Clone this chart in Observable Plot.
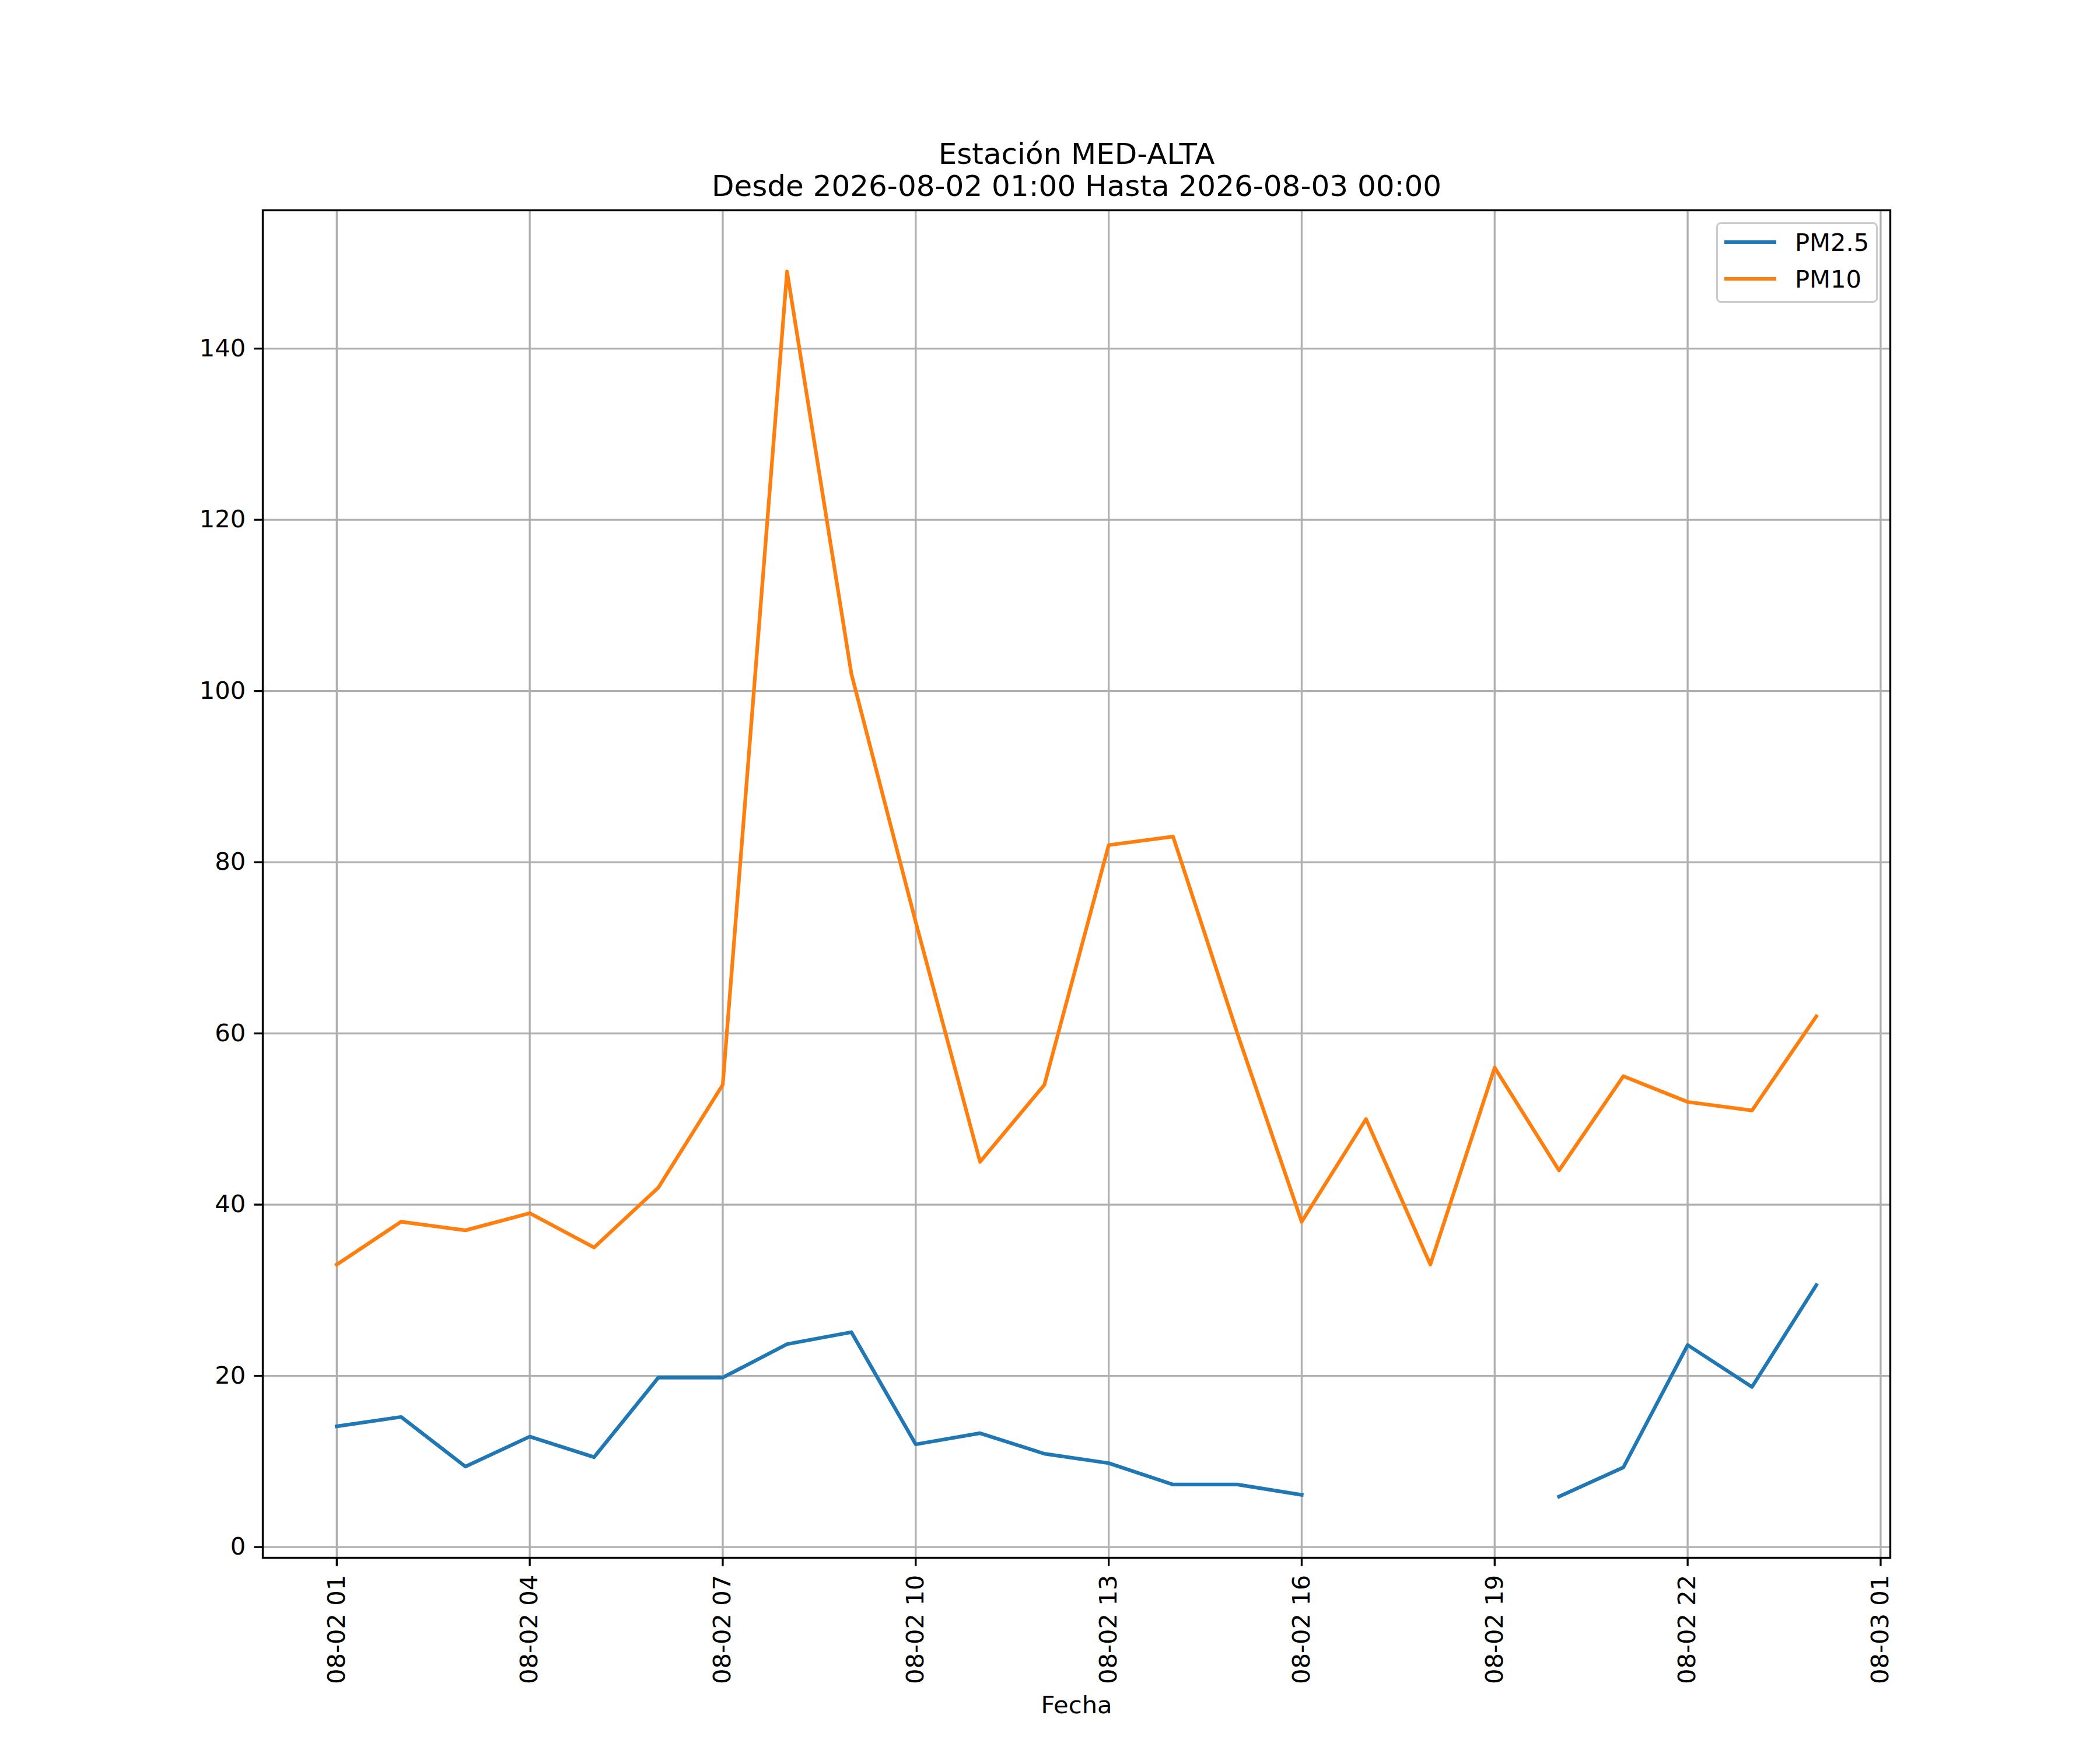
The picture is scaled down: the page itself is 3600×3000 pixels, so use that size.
<!DOCTYPE html>
<html>
<head>
<meta charset="utf-8">
<script src="https://cdn.jsdelivr.net/npm/d3@7"></script>
<script src="https://cdn.jsdelivr.net/npm/@observablehq/plot@0.6"></script>
<style>
html, body { margin: 0; padding: 0; background: #ffffff; }
#wrap { position: relative; width: 3600px; height: 3000px; font-family: "DejaVu Sans", sans-serif; }
#legend { position: absolute; left: 2942px; top: 381px; width: 277px; height: 138px; box-sizing: border-box;
  border: 3.33px solid #cccccc; border-radius: 8px; background: rgba(255,255,255,0.8); }
.lg-row { position: absolute; left: 0; height: 50px; display: flex; align-items: center; }
.lg-sw { width: 89px; height: 6.25px; margin-left: 11px; }
.lg-tx { margin-left: 32px; font-size: 41.67px; color: #000; line-height: normal; white-space: nowrap; }
</style>
</head>
<body>
<div id="wrap"></div>
<script>
// ---- data ----
const hours = [
  "2026-08-02T01:00", "2026-08-02T02:00", "2026-08-02T03:00", "2026-08-02T04:00",
  "2026-08-02T05:00", "2026-08-02T06:00", "2026-08-02T07:00", "2026-08-02T08:00",
  "2026-08-02T09:00", "2026-08-02T10:00", "2026-08-02T11:00", "2026-08-02T12:00",
  "2026-08-02T13:00", "2026-08-02T14:00", "2026-08-02T15:00", "2026-08-02T16:00",
  "2026-08-02T17:00", "2026-08-02T18:00", "2026-08-02T19:00", "2026-08-02T20:00",
  "2026-08-02T21:00", "2026-08-02T22:00", "2026-08-02T23:00", "2026-08-03T00:00"
];
const pm25 = [14.1, 15.2, 9.4, 12.9, 10.5, 19.8, 19.8, 23.7, 25.1, 12.0, 13.3, 10.9,
              9.8, 7.3, 7.3, 6.1, null, null, null, 5.9, 9.3, 23.6, 18.7, 30.6];
const pm10 = [33, 38, 37, 39, 35, 42, 54, 149, 102, 73, 45, 54,
              82, 83, 60, 38, 50, 33, 56, 44, 55, 52, 51, 62];
const seriesNames = ["PM2.5", "PM10"];
const seriesColors = ["#1f77b4", "#ff7f0e"];
const xTickStrings = [
  "2026-08-02T01:00", "2026-08-02T04:00", "2026-08-02T07:00", "2026-08-02T10:00",
  "2026-08-02T13:00", "2026-08-02T16:00", "2026-08-02T19:00", "2026-08-02T22:00",
  "2026-08-03T01:00"
];
const yTicks = [0, 20, 40, 60, 80, 100, 120, 140];
const titleLines = ["Estación MED-ALTA", "Desde 2026-08-02 01:00 Hasta 2026-08-03 00:00"];
const xLabel = "Fecha";

// ---- build ----
const parse = s => new Date(s + ":00Z");
const dates = hours.map(parse);
const xTicks = xTickStrings.map(parse);
const seriesValues = [pm25, pm10];

const rows = [];
seriesNames.forEach((name, si) => {
  dates.forEach((d, i) => rows.push({series: name, date: d, value: seriesValues[si][i]}));
});

// matplotlib-like 5% margins
const tExt = d3.extent(dates, d => +d);
const tPad = (tExt[1] - tExt[0]) * 0.05;
const allVals = [...pm25, ...pm10].filter(v => v != null);
const vExt = d3.extent(allVals);
const vPad = (vExt[1] - vExt[0]) * 0.05;

const LW = 6.25, AW = 3.33, FS = 41.67;

const chart = Plot.plot({
  width: 3600,
  height: 3000,
  marginLeft: 450,
  marginRight: 360,
  marginTop: 360,
  marginBottom: 330,
  style: {fontFamily: "DejaVu Sans", fontSize: FS + "px", color: "#000", background: "#fff"},
  x: {type: "utc", domain: [new Date(tExt[0] - tPad), new Date(tExt[1] + tPad)]},
  y: {domain: [vExt[0] - vPad, vExt[1] + vPad]},
  marks: [
    Plot.gridX(xTicks, {stroke: "#b0b0b0", strokeOpacity: 1, strokeWidth: AW}),
    Plot.gridY(yTicks, {stroke: "#b0b0b0", strokeOpacity: 1, strokeWidth: AW}),
    ...seriesNames.map((name, si) =>
      Plot.line(rows.filter(r => r.series === name), {
        x: "date", y: "value", stroke: seriesColors[si], strokeWidth: LW,
        strokeLinecap: "square", strokeLinejoin: "round"
      })
    ),
    Plot.frame({stroke: "#000", strokeWidth: AW}),
    Plot.axisX(xTicks, {
      tickSize: 14.6, tickPadding: 14.6, tickRotate: -90, strokeWidth: AW,
      tickFormat: d3.utcFormat("%m-%d %H"), fontSize: FS, label: null, stroke: "#000", fill: "#000"
    }),
    Plot.axisY(yTicks, {
      tickSize: 14.6, tickPadding: 14.6, strokeWidth: AW,
      tickFormat: d => String(d), fontSize: FS, label: null, stroke: "#000", fill: "#000"
    }),
    Plot.text([titleLines.join("\n")], {
      frameAnchor: "top", dy: -25, lineAnchor: "bottom", lineHeight: 1.1,
      fontSize: 50, fill: "#000", textAnchor: "middle"
    }),
    Plot.text([xLabel], {
      frameAnchor: "bottom", dy: 266, lineAnchor: "bottom", fontSize: FS, fill: "#000", textAnchor: "middle"
    })
  ]
});

const wrap = document.getElementById("wrap");
wrap.appendChild(chart);

// legend overlay (matplotlib-style, upper right inside axes)
const legend = document.createElement("div");
legend.id = "legend";
seriesNames.forEach((name, i) => {
  const row = document.createElement("div");
  row.className = "lg-row";
  row.style.top = (6 + i * 63) + "px";
  const sw = document.createElement("div");
  sw.className = "lg-sw";
  sw.style.background = seriesColors[i];
  const tx = document.createElement("div");
  tx.className = "lg-tx";
  tx.textContent = name;
  row.appendChild(sw);
  row.appendChild(tx);
  legend.appendChild(row);
});
wrap.appendChild(legend);
</script>
</body>
</html>
